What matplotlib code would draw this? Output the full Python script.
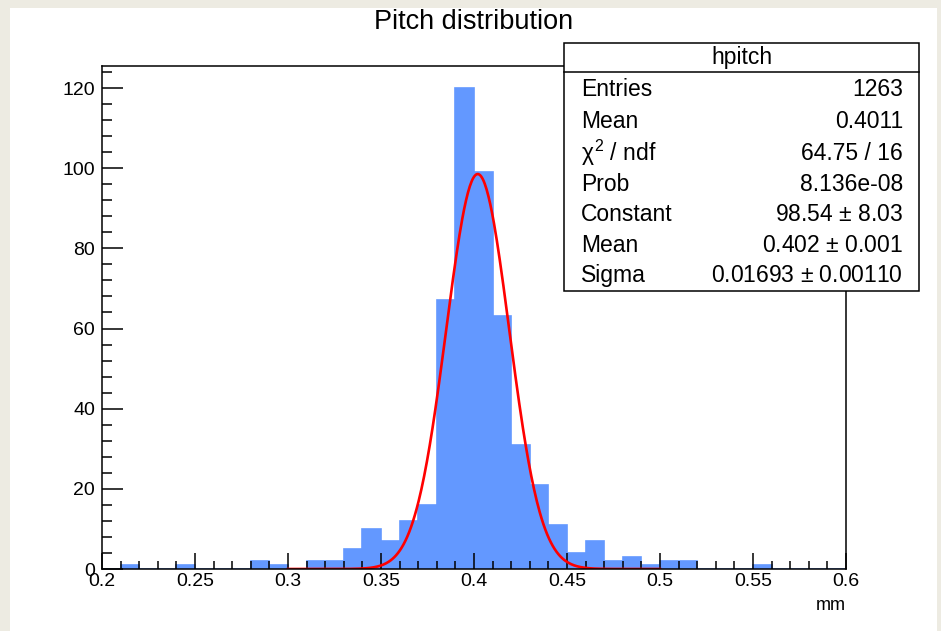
import numpy as np
import matplotlib
matplotlib.use("Agg")
import matplotlib.pyplot as plt
from matplotlib.patches import Rectangle
from matplotlib.lines import Line2D
from matplotlib.ticker import MultipleLocator

# ---- data ----
bin_edges_start = 0.20
bin_width = 0.01
counts = [0, 1, 0, 0, 1, 0, 0, 0, 2, 1,
          0, 2, 2, 5, 10, 7, 12, 16, 67, 120,
          99, 63, 31, 21, 11, 4, 7, 2, 3, 1,
          2, 2, 0, 0, 0, 1, 0, 0, 0, 0]
fit_constant = 98.54
fit_mean = 0.402
fit_sigma = 0.01693
fit_range = (0.30, 0.50)
x_ticks = [0.2, 0.25, 0.3, 0.35, 0.4, 0.45, 0.5, 0.55, 0.6]
x_tick_labels = ["0.2", "0.25", "0.3", "0.35", "0.4", "0.45", "0.5", "0.55", "0.6"]
y_ticks = [0, 20, 40, 60, 80, 100, 120]
stats_title = "hpitch"
stats_names = ["Entries", "Mean", r"$\chi^{2}$ / ndf", "Prob", "Constant", "Mean", "Sigma"]
stats_values = ["1263", "0.4011", "64.75 / 16", "8.136e-08",
                "98.54 $\\pm$ 8.03", "0.402 $\\pm$ 0.001", "0.01693 $\\pm$ 0.00110"]

plt.rcParams['font.family'] = ['Liberation Sans', 'DejaVu Sans']
plt.rcParams['mathtext.fontset'] = 'custom'
plt.rcParams['mathtext.rm'] = 'Liberation Sans'
plt.rcParams['mathtext.it'] = 'Liberation Sans'

W, H = 941, 631
fig = plt.figure(figsize=(W / 100, H / 100), dpi=100)
fig.patch.set_facecolor('#EDEBE2')
# white canvas
fig.add_artist(Rectangle((10 / W, 0), (937 - 10) / W, (631 - 8) / H,
                         transform=fig.transFigure, facecolor='white',
                         edgecolor='none', zorder=0))

ax_l, ax_r, ax_t, ax_b = 102, 846, 66, 569
ax = fig.add_axes([ax_l / W, 1 - ax_b / H, (ax_r - ax_l) / W, (ax_b - ax_t) / H])
ax.set_facecolor('white')

edges = bin_edges_start + bin_width * np.arange(len(counts) + 1)
ax.stairs(counts, edges, fill=True, color='#6398FF', zorder=2)
ax.stairs(counts, edges, fill=False, color='#6398FF', linewidth=1.2, zorder=2)

xf = np.linspace(fit_range[0], fit_range[1], 400)
yf = fit_constant * np.exp(-0.5 * ((xf - fit_mean) / fit_sigma) ** 2)
ax.plot(xf, yf, color='#FF0000', linewidth=1.9, zorder=3)

ax.set_xlim(0.2, 0.6)
ax.set_ylim(0, 125.5)
ax.set_xticks(x_ticks)
ax.set_xticklabels(x_tick_labels)
ax.set_yticks(y_ticks)
ax.xaxis.set_minor_locator(MultipleLocator(0.01))
ax.yaxis.set_minor_locator(MultipleLocator(4))
ax.tick_params(axis='x', which='major', direction='in', length=11.5, width=1.1,
               labelsize=14, pad=3, top=False, bottom=True)
ax.tick_params(axis='x', which='minor', direction='in', length=6, width=1.1,
               top=False, bottom=True)
ax.tick_params(axis='y', which='major', direction='in', length=15, width=1.1,
               labelsize=14, pad=5, left=True, right=False)
ax.tick_params(axis='y', which='minor', direction='in', length=7.5, width=1.1,
               left=True, right=False)
for s in ax.spines.values():
    s.set_linewidth(1.1)
    s.set_color('black')
    s.set_zorder(5)
ax.set_axisbelow(False)

ax.text(1.0, -0.056, "mm", transform=ax.transAxes, ha='right', va='top', fontsize=13)

fig.text(474 / W, 1 - 22 / H, "Pitch distribution", ha='center', va='center', fontsize=19.5)

# ---- stats box ----
bx0, bx1, by0, by1 = 564, 919, 43, 291
fig.add_artist(Rectangle((bx0 / W, 1 - by1 / H), (bx1 - bx0) / W, (by1 - by0) / H,
                         transform=fig.transFigure, facecolor='white',
                         edgecolor='black', linewidth=1.1, zorder=10))
fig.add_artist(Line2D([bx0 / W, bx1 / W], [1 - 72 / H, 1 - 72 / H],
                      transform=fig.transFigure, color='black', linewidth=1.1, zorder=11))
fig.text((bx0 + bx1) / 2 / W, 1 - 64 / H, stats_title, ha='center', va='baseline',
         fontsize=16.5, zorder=12)
row_y = [89, 121, 153, 183, 213, 245, 275]
for name, val, ry in zip(stats_names, stats_values, row_y):
    base = 1 - (ry + 7.5) / H
    fig.text(581 / W, base, name, ha='left', va='baseline', fontsize=16.5, zorder=12)
    fig.text(903 / W, base, val, ha='right', va='baseline', fontsize=16.5, zorder=12)

fig.savefig("out.png", dpi=100, facecolor=fig.get_facecolor())
